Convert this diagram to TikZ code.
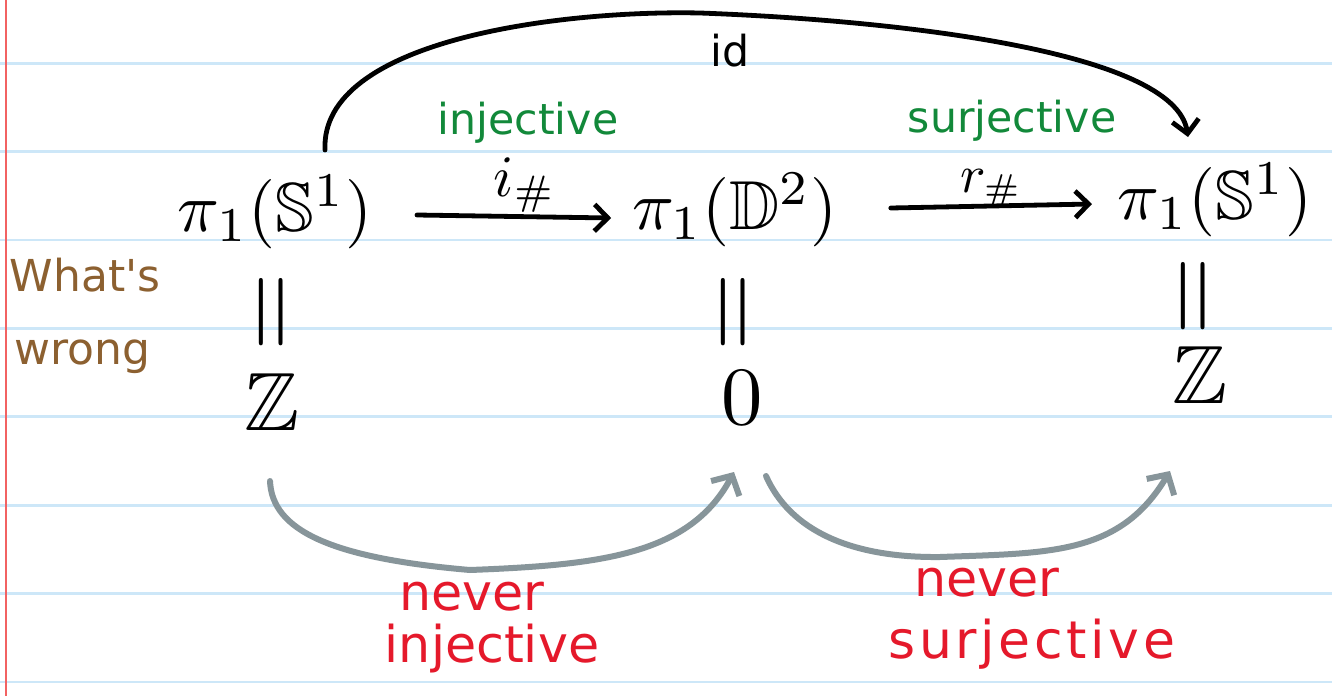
\documentclass[tikz,border=0pt]{standalone}
\usepackage{amssymb}
\usepackage{fontspec}
\newfontfamily\hand{DejaVu Sans}
\newfontfamily\handwide[LetterSpace=7]{DejaVu Sans}
\usetikzlibrary{arrows.meta,calc}
\definecolor{lineblue}{HTML}{CDE7F8}
\definecolor{marginred}{HTML}{F26262}
\definecolor{inkgreen}{HTML}{12893A}
\definecolor{inkred}{HTML}{E5192B}
\definecolor{inkbrown}{HTML}{8C6030}
\definecolor{inkgray}{HTML}{87959A}
\newcommand{\MathScaled}[2]{\scalebox{#1}{$#2$}}
\tikzset{
  mathnode/.style={inner sep=2pt},
  greenword/.style={inner sep=0pt, anchor=base, text=inkgreen, font=\hand\fontsize{32}{36}\selectfont},
  redword/.style={inner sep=0pt, anchor=base, text=inkred, font=\hand\fontsize{38}{42}\selectfont},
  brownword/.style={inner sep=0pt, anchor=base, text=inkbrown, font=\hand\fontsize{33}{36}\selectfont},
  eqbars/.style={rotate=90, inner sep=0pt},
  maplab/.style={inner sep=0pt, above=1pt},
  inkarrow/.style={draw=black, line width=3.6pt, line cap=round, line join=round,
    -{Straight Barb[length=10pt,width=20pt,line width=3.6pt]}},
  grayarrow/.style={draw=inkgray, line width=4.5pt, line cap=round, line join=round,
    -{Straight Barb[length=11pt,width=24pt,line width=4.5pt]}},
}
\begin{document}
\begin{tikzpicture}[x=0.75pt,y=-0.75pt]
% paper
\fill[white] (0,0) rectangle (1332,696);
\useasboundingbox (0,0) rectangle (1332,696);
\foreach \yy in {63.3,151.7,240,328.4,416.8,505.2,593.6,682}
  \draw[lineblue, line width=2.2pt] (0,\yy) -- (1332,\yy);
\draw[marginred, line width=1.6pt] (5.7,0) -- (5.7,696);

% top row
\node[mathnode] (A) at (275,212) {\MathScaled{5.2}{\pi_1(\mathbb{S}^1)}};
\node[mathnode] (B) at (735,210) {\MathScaled{5.2}{\pi_1(\mathbb{D}^2)}};
\node[mathnode] (C) at (1215,200) {\MathScaled{5.2}{\pi_1(\mathbb{S}^1)}};

% equal signs
\node[eqbars] (eA) at (278,312) {\MathScaled{7.6}{=}};
\node[eqbars] (eB) at (740,312) {\MathScaled{7.6}{=}};
\node[eqbars] (eC) at (1200,296) {\MathScaled{7.6}{=}};

% bottom row
\node[mathnode] (ZA) at (272,402) {\MathScaled{6.2}{\mathbb{Z}}};
\node[mathnode] (O) at (742,398) {\MathScaled{6.2}{0}};
\node[mathnode] (ZC) at (1200,375) {\MathScaled{6.2}{\mathbb{Z}}};

% horizontal maps
\draw[inkarrow] ($(A.east)+(42,3)$) -- node[maplab, xshift=8pt] (ilab) {\MathScaled{4.4}{i_\#}} ($(B.west)+(-18,8)$);
\draw[inkarrow] ($(B.east)+(50,-2)$) -- node[maplab, yshift=-4pt] (rlab) {\MathScaled{4.0}{r_\#}} ($(C.west)+(-23,4)$);

% identity arc
\draw[inkarrow] ($(A)+(50,-62)$) .. controls (320,40) and (560,10) .. (700,13)
   .. controls (890,20) and (1175,50) .. ($(C)+(-27,-63)$);
\node[inner sep=0pt, anchor=base, font=\hand\fontsize{32}{36}\selectfont] (idlab) at (730,66) {id};

% green labels
\node[greenword] (inj) at (528,134) {injective};
\node[greenword] (surj) at (1012,132) {surjective};

% gray arrows
\draw[grayarrow] ($(ZA)+(-2,79)$) .. controls (272,530) and (330,558) .. (470,570)
   .. controls (600,565) and (690,555) .. ($(O)+(-8,74)$);
\draw[grayarrow] ($(O)+(24,78)$) .. controls (790,530) and (850,558) .. (940,557)
   .. controls (1050,553) and (1120,555) .. ($(ZC)+(-30,96)$);

% red labels
\node[redword] (nev1) at (472,610) {never};
\node[redword] (inj1) at (492,662) {injective};
\node[redword] (nev2) at (987,596) {never};
\node[redword, font=\handwide\fontsize{39}{42}\selectfont] (surj2) at (1032,658) {surjective};

% brown note
\node[brownword] (w1) at (85,291) {What's};
\node[brownword] (w2) at (82,364) {wrong};
\end{tikzpicture}
\end{document}
